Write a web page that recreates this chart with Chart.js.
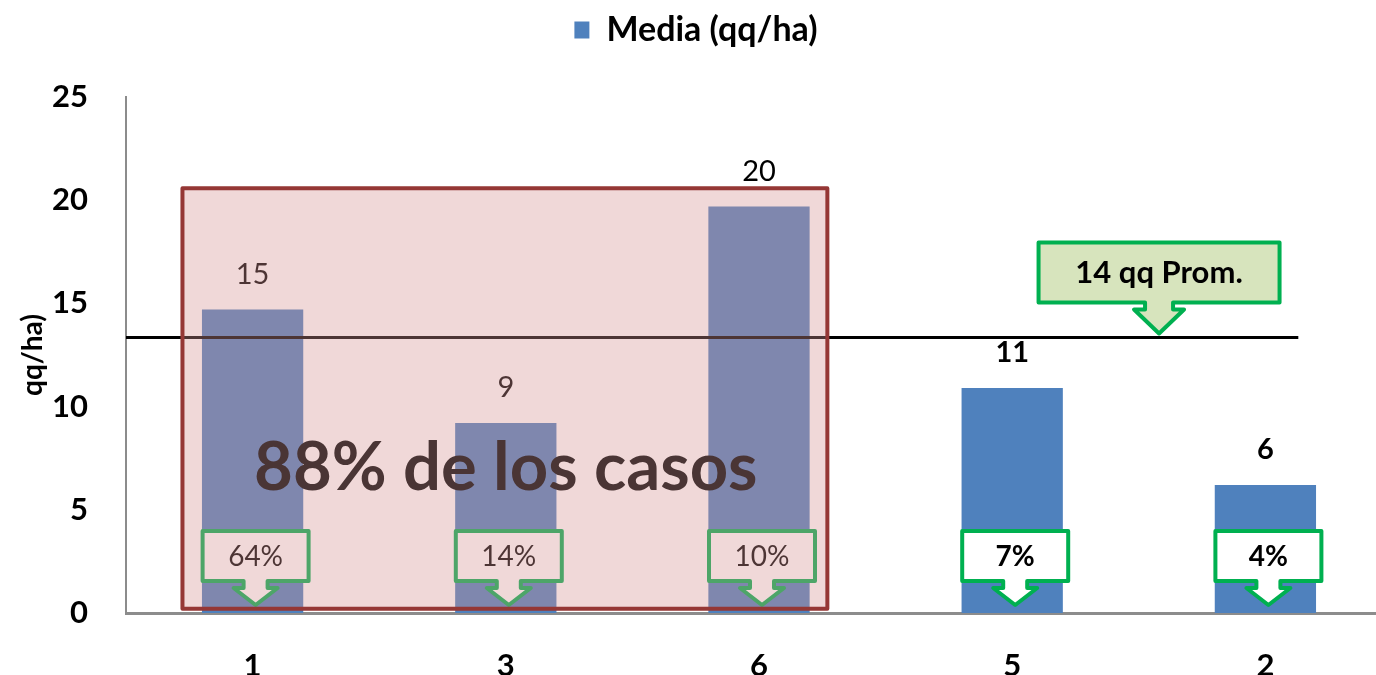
<!DOCTYPE html>
<html>
<head>
<meta charset="utf-8">
<script src="https://cdn.jsdelivr.net/npm/chart.js@4.4.1/dist/chart.umd.min.js"></script>
<style>
  html, body { margin: 0; padding: 0; background: #fff; overflow: hidden; }
  #wrap { width: 1392px; height: 675px; }
</style>
</head>
<body>
<div id="wrap"><canvas id="chart"></canvas></div>
<script>
// Data
const categories = ['1', '3', '6', '5', '2'];
const mediaValues = [14.7, 9.2, 19.7, 10.9, 6.2];
const valueLabels = ['15', '9', '20', '11', '6'];
const shareLabels = ['64%', '14%', '10%', '7%', '4%'];
const averageValue = 13.35;
const averageLabel = '14 qq Prom.';
const highlightCount = 3;          // first three categories are in the red box
const highlightLabel = '88% de los casos';
const yTicks = [0, 5, 10, 15, 20, 25];

const FONT = 'Lato, "Open Sans", sans-serif';
const BLUE = '#4F81BD';
const GREEN = '#00B050';

// down-arrow callout shape
function callout(ctx, cx, top, w, h, tipY, opts) {
    const bottom = top + h;
    const shaft = opts.shaft, head = opts.head, headY = opts.headY;
    ctx.save();
    ctx.beginPath();
    ctx.moveTo(cx - w / 2, top);
    ctx.lineTo(cx + w / 2, top);
    ctx.lineTo(cx + w / 2, bottom);
    ctx.lineTo(cx + shaft / 2, bottom);
    ctx.lineTo(cx + shaft / 2, headY);
    ctx.lineTo(cx + head / 2, headY);
    ctx.lineTo(cx, tipY);
    ctx.lineTo(cx - head / 2, headY);
    ctx.lineTo(cx - shaft / 2, headY);
    ctx.lineTo(cx - shaft / 2, bottom);
    ctx.lineTo(cx - w / 2, bottom);
    ctx.closePath();
    ctx.fillStyle = opts.fill;
    ctx.fill();
    ctx.lineWidth = 4;
    ctx.lineJoin = 'round';
    ctx.strokeStyle = GREEN;
    ctx.stroke();
    ctx.fillStyle = '#000';
    ctx.font = opts.font;
    ctx.textAlign = 'center';
    ctx.textBaseline = 'middle';
    ctx.fillText(opts.text, cx, top + h / 2 + 1);
    ctx.restore();
}

// extra room under the legend
const legendGap = {
    id: 'legendGap',
    beforeInit(chart) {
        const fit = chart.legend.fit;
        chart.legend.fit = function () {
            fit.bind(chart.legend)();
            this.height += 40;
        };
    }
};

const overlayPlugin = {
    id: 'overlay',
    afterDatasetsDraw(chart) {
        const ctx = chart.ctx;
        const x = chart.scales.x, y = chart.scales.y;
        const step = x.getPixelForValue(1) - x.getPixelForValue(0);
        const base = y.getPixelForValue(0);

        // average line
        const avgY = y.getPixelForValue(averageValue);
        ctx.save();
        ctx.strokeStyle = '#000';
        ctx.lineWidth = 3;
        ctx.beginPath();
        ctx.moveTo(x.left, avgY);
        ctx.lineTo(x.getPixelForValue(categories.length - 1) + 0.13 * step, avgY);
        ctx.stroke();
        ctx.restore();

        // value labels above bars
        ctx.save();
        ctx.fillStyle = '#000';
        ctx.textAlign = 'center';
        ctx.textBaseline = 'middle';
        mediaValues.forEach((v, i) => {
            ctx.font = (i < highlightCount ? '' : 'bold ') + '29px ' + FONT;
            ctx.fillText(valueLabels[i], x.getPixelForValue(i), y.getPixelForValue(v) - 35);
        });
        ctx.restore();

        // share callouts at the foot of each bar
        shareLabels.forEach((t, i) => {
            const cx = x.getPixelForValue(i) + 3;
            callout(ctx, cx, base - 82, 106, 50, base - 8, {
                shaft: 24, head: 44, headY: base - 25,
                fill: '#fff', text: t,
                font: (i < highlightCount ? '' : 'bold ') + '28px ' + FONT
            });
        });

        // highlight box over first group
        const left = x.getPixelForValue(0) - 0.277 * step;
        const right = x.getPixelForValue(highlightCount - 1) + 0.27 * step;
        const top = y.getPixelForValue(20.58);
        const bottom = y.getPixelForValue(0.2);
        ctx.save();
        ctx.fillStyle = 'rgba(214, 148, 146, 0.36)';
        ctx.fillRect(left, top, right - left, bottom - top);
        ctx.strokeStyle = '#953735';
        ctx.lineWidth = 4;
        ctx.lineJoin = 'round';
        ctx.strokeRect(left, top, right - left, bottom - top);
        ctx.fillStyle = '#4A3535';
        ctx.font = 'bold 67px ' + FONT;
        ctx.textAlign = 'center';
        ctx.textBaseline = 'middle';
        ctx.fillText(highlightLabel, x.getPixelForValue(1), y.getPixelForValue(7.0));
        ctx.restore();

        // average callout
        const acx = x.getPixelForValue(3) + 0.58 * step;
        callout(ctx, acx, avgY - 95, 241, 60, avgY - 4, {
            shaft: 28, head: 50, headY: avgY - 28,
            fill: '#D7E4BD', text: averageLabel,
            font: 'bold 31px ' + FONT
        });
    }
};

new Chart(document.getElementById('chart'), {
    type: 'bar',
    data: {
        labels: categories,
        datasets: [{
            label: 'Media (qq/ha)',
            data: mediaValues,
            backgroundColor: BLUE,
            borderWidth: 0,
            barPercentage: 0.4,
            categoryPercentage: 1.0
        }]
    },
    options: {
        responsive: true,
        maintainAspectRatio: false,
        animation: false,
        layout: { padding: { top: 0, left: 0, right: 0, bottom: 0 } },
        plugins: {
            legend: {
                position: 'top',
                labels: {
                    boxWidth: 15,
                    boxHeight: 17,
                    color: '#000',
                    padding: 13,
                    font: { family: FONT, size: 34, weight: 'bold' }
                }
            },
            tooltip: { enabled: false }
        },
        scales: {
            x: {
                grid: { display: false },
                border: { color: '#8c8c8c', width: 3 },
                ticks: { color: '#000', padding: 26, font: { family: FONT, size: 31, weight: 'bold' } },
                afterFit: (s) => { s.height = 62; }
            },
            y: {
                min: 0,
                max: 25,
                afterBuildTicks: (s) => { s.ticks = yTicks.map(v => ({ value: v })); },
                grid: { display: false },
                border: { color: '#8c8c8c', width: 2 },
                ticks: { color: '#000', padding: 30, font: { family: FONT, size: 31, weight: 'bold' } },
                title: {
                    display: true,
                    text: 'qq/ha)',
                    color: '#000',
                    padding: { top: 16, bottom: 0 },
                    font: { family: FONT, size: 28, weight: 'bold' }
                },
                afterFit: (s) => { s.width = 126; }
            }
        }
    },
    plugins: [legendGap, overlayPlugin]
});
</script>
</body>
</html>
